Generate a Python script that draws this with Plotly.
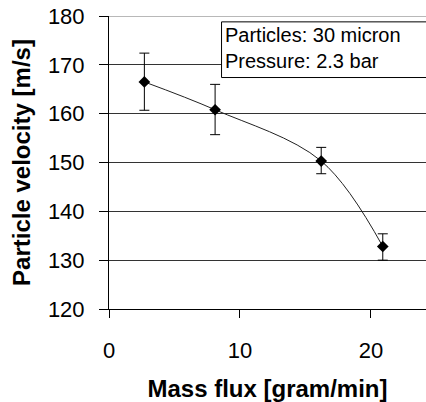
import plotly.graph_objects as go

# Measured particle velocity vs. powder mass flux
mass_flux = [2.7, 8.1, 16.2, 20.9]
velocity = [166.5, 160.8, 150.3, 132.8]
err_plus = [5.9, 5.2, 2.8, 2.6]
err_minus = [5.8, 5.1, 2.6, 2.8]

x_ticks = [0, 10, 20]
y_ticks = [120, 130, 140, 150, 160, 170, 180]

font_family = "Liberation Sans, Arial, sans-serif"

fig = go.Figure()

# smooth connecting curve
fig.add_trace(go.Scatter(
    x=mass_flux, y=velocity, mode="lines",
    line=dict(color="#222222", width=1, shape="spline", smoothing=1.0),
    hoverinfo="skip", showlegend=False,
))

# data points with error bars
fig.add_trace(go.Scatter(
    x=mass_flux, y=velocity, mode="markers",
    marker=dict(symbol="diamond", size=9, color="black"),
    error_y=dict(type="data", symmetric=False, array=err_plus,
                 arrayminus=err_minus, color="black", thickness=1, width=5),
    showlegend=False,
))

fig.update_layout(
    width=426, height=402,
    margin=dict(l=109, r=0, t=16, b=93),
    paper_bgcolor="white", plot_bgcolor="white",
    font=dict(family=font_family, color="black"),
    xaxis=dict(
        range=[0, 24.2], tickvals=x_ticks, showgrid=False,
        showline=True, linecolor="black", linewidth=1,
        ticks="outside", ticklen=8, tickcolor="black", tickwidth=1,
        ticklabelstandoff=14,
        tickfont=dict(size=22), zeroline=False,
        title=dict(text="<b>Mass flux [gram/min]</b>", font=dict(size=24), standoff=20),
    ),
    yaxis=dict(
        range=[120, 180], tickvals=y_ticks, showgrid=True,
        gridcolor="#333333", gridwidth=1,
        showline=True, linecolor="black", linewidth=1,
        ticks="outside", ticklen=9, tickcolor="black", tickwidth=1,
        ticklabelstandoff=10,
        tickfont=dict(size=22), zeroline=False,
        title=dict(text="<b>Particle velocity [m/s]</b>", font=dict(size=24), standoff=10),
    ),
    shapes=[
        # light top border of the plot area
        dict(type="line", xref="paper", yref="y", x0=0, x1=1, y0=180, y1=180,
             line=dict(color="#a0a0a0", width=1.5), layer="above"),
        # info box, running off the right edge
        dict(type="rect", xref="paper", yref="y", x0=0.355, x1=1.05,
             y0=167.4, y1=178.8, fillcolor="white",
             line=dict(color="black", width=1), layer="above"),
    ],
    annotations=[
        dict(
            xref="paper", yref="paper", x=0.357, y=0.984,
            xanchor="left", yanchor="top", align="left", showarrow=False,
            text="Particles: 30 micron<br>Pressure: 2.3 bar",
            font=dict(size=20, family=font_family, color="black"),
            borderpad=2,
        )
    ],
)

fig.write_html("out.html")
